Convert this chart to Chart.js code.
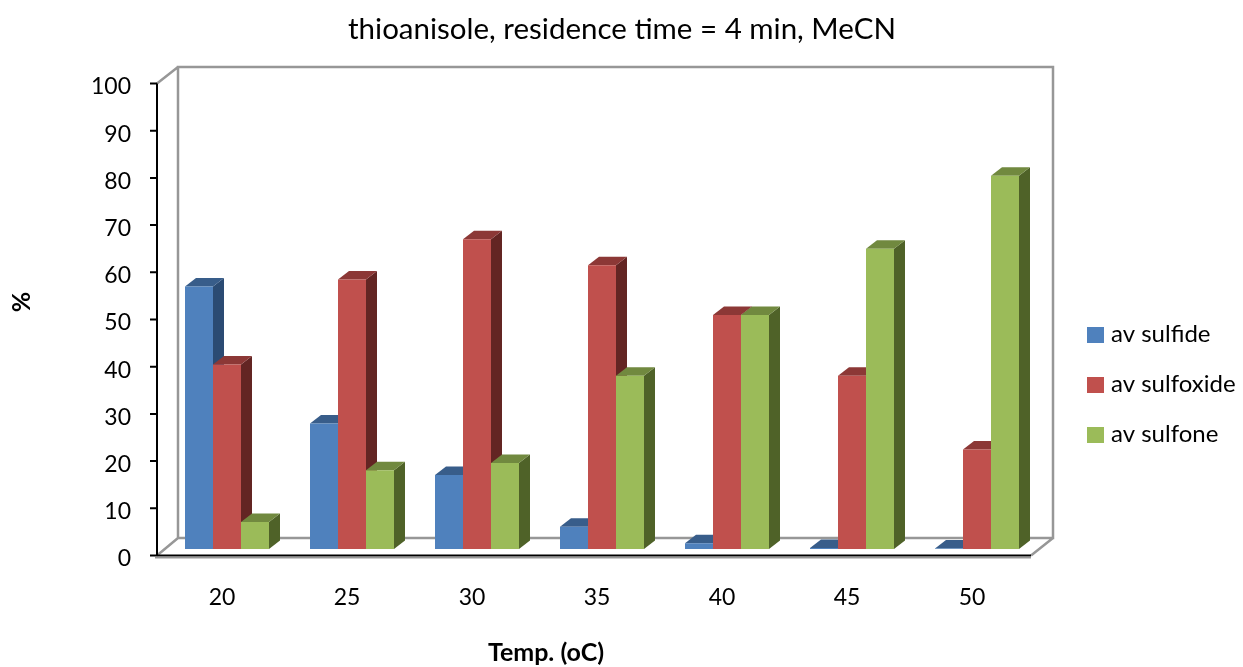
<!DOCTYPE html>
<html>
<head>
<meta charset="utf-8">
<script src="https://cdn.jsdelivr.net/npm/chart.js@4.4.1/dist/chart.umd.min.js"></script>
<style>
  html, body { margin: 0; padding: 0; background: #fff; }
  canvas { display: block; }
</style>
</head>
<body>
<canvas id="c" width="1243" height="667"></canvas>
<script>
// Temperatures (°C) on the category axis
const temperatures = ['20', '25', '30', '35', '40', '45', '50'];
// Average composition (%) per temperature
const sulfide   = [55.6, 26.6, 15.7, 4.7, 1.2, 0.2, 0.1];
const sulfoxide = [39.1, 57.1, 65.6, 60.1, 49.6, 36.7, 21.1];
const sulfone   = [5.7, 16.7, 18.2, 36.7, 49.6, 63.6, 79.1];
const seriesNames = ['av sulfide', 'av sulfoxide', 'av sulfone'];
const yTickValues = [0, 10, 20, 30, 40, 50, 60, 70, 80, 90, 100];

const FONT = "Lato, 'Open Sans', sans-serif";

// front / top / side shades for each series
const shades = [
  { front: '#4F81BD', top: '#385D8A', side: '#2B4B73' },
  { front: '#C0504D', top: '#8C3836', side: '#632523' },
  { front: '#9BBB59', top: '#71893F', side: '#4F6228' }
];

// bar depth (oblique projection)
const DEPTH = { dx: 11, dy: -8.5 };

function fillPoly(ctx, pts, color) {
  ctx.beginPath();
  ctx.moveTo(pts[0][0], pts[0][1]);
  for (let i = 1; i < pts.length; i++) ctx.lineTo(pts[i][0], pts[i][1]);
  ctx.closePath();
  ctx.fillStyle = color;
  ctx.fill();
}

const frame3d = {
  id: 'frame3d',
  beforeDatasetsDraw(chart) {
    const { ctx, chartArea: a, scales: { y } } = chart;
    const fy = v => y.getPixelForValue(v) + 6.5;      // front plane
    const fl = a.left - 7.5, fr = a.right - 8.5;
    const bl = a.left + 13.5, br = a.right + 13.5;    // back plane
    const bt = y.getPixelForValue(100) - 10;
    const bb = y.getPixelForValue(0) - 11;

    ctx.save();
    // back wall, side wall edge and floor edges
    ctx.strokeStyle = '#979797';
    ctx.lineWidth = 2.5;
    ctx.beginPath();
    ctx.moveTo(bl, bb); ctx.lineTo(bl, bt); ctx.lineTo(br, bt); ctx.lineTo(br, bb); ctx.lineTo(bl, bb);
    ctx.moveTo(fl, fy(100)); ctx.lineTo(bl, bt);
    ctx.moveTo(fl, fy(0)); ctx.lineTo(bl, bb);
    ctx.moveTo(fr, fy(0)); ctx.lineTo(br, bb);
    ctx.stroke();
    ctx.lineWidth = 1.5;
    ctx.beginPath();
    ctx.moveTo(fl - 2, fy(0) + 2.2); ctx.lineTo(fr, fy(0) + 2.2);
    ctx.stroke();

    // front value axis with tick marks, and front floor edge
    ctx.strokeStyle = '#000';
    ctx.lineWidth = 2;
    ctx.beginPath();
    ctx.moveTo(fl, fy(100)); ctx.lineTo(fl, fy(0));
    ctx.moveTo(fl - 2, fy(0)); ctx.lineTo(fr, fy(0));
    yTickValues.forEach(v => { ctx.moveTo(fl - 7, fy(v)); ctx.lineTo(fl, fy(v)); });
    ctx.stroke();

    // side and top faces of every bar (front faces are drawn by the bar controller)
    chart.data.datasets.forEach((ds, i) => {
      const meta = chart.getDatasetMeta(i);
      const s = shades[i];
      meta.data.forEach(bar => {
        const p = bar.getProps(['x', 'y', 'base', 'width'], true);
        const l = p.x - p.width / 2, r = p.x + p.width / 2;
        const t = p.y, b = p.base;
        fillPoly(ctx, [[r, t], [r + DEPTH.dx, t + DEPTH.dy], [r + DEPTH.dx, b + DEPTH.dy], [r, b]], s.side);
        fillPoly(ctx, [[l, t], [l + DEPTH.dx, t + DEPTH.dy], [r + DEPTH.dx, t + DEPTH.dy], [r, t]], s.top);
      });
    });
    ctx.restore();
  },
  afterDraw(chart) {
    const { ctx } = chart;
    ctx.save();
    ctx.fillStyle = '#000';
    ctx.textBaseline = 'middle';

    // chart title
    ctx.font = `29.5px ${FONT}`;
    ctx.textAlign = 'center';
    ctx.fillText('thioanisole, residence time = 4 min, MeCN', 622, 29);

    // axis titles
    ctx.font = `bold 25px ${FONT}`;
    ctx.fillText('Temp. (oC)', 546, 653);
    ctx.save();
    ctx.translate(22, 302);
    ctx.rotate(-Math.PI / 2);
    ctx.fillText('%', 0, 0);
    ctx.restore();

    // legend
    ctx.textAlign = 'left';
    ctx.font = `24px ${FONT}`;
    chart.data.datasets.forEach((ds, i) => {
      const cy = 334 + i * 50;
      ctx.fillStyle = ds.backgroundColor;
      ctx.fillRect(1087, cy - 7, 17, 16);
      ctx.fillStyle = '#000';
      ctx.fillText(ds.label, 1111, cy);
    });
    ctx.restore();
  }
};

const seriesData = [sulfide, sulfoxide, sulfone];

new Chart(document.getElementById('c'), {
  type: 'bar',
  data: {
    labels: temperatures,
    datasets: seriesData.map((d, i) => ({
      label: seriesNames[i],
      data: d,
      backgroundColor: shades[i].front,
      borderWidth: 0
    }))
  },
  options: {
    responsive: false,
    animation: false,
    devicePixelRatio: 1,
    layout: { padding: { left: 0, right: 203.5, top: 77, bottom: 0 } },
    datasets: { bar: { categoryPercentage: 0.672, barPercentage: 1 } },
    plugins: {
      legend: { display: false },
      title: { display: false },
      tooltip: { enabled: false }
    },
    scales: {
      x: {
        grid: { display: false, drawTicks: false },
        border: { display: false },
        ticks: { padding: 35, labelOffset: -5, maxRotation: 0, color: '#000', font: { family: FONT, size: 23 } },
        afterFit: s => { s.height = 118; }
      },
      y: {
        min: 0,
        max: 100,
        grid: { display: false, drawTicks: false },
        border: { display: false },
        ticks: { padding: 33.5, labelOffset: 10, color: '#000', font: { family: FONT, size: 23 } },
        afterBuildTicks: s => { s.ticks = yTickValues.map(v => ({ value: v })); },
        afterFit: s => { s.width = 164.5; }
      }
    }
  },
  plugins: [frame3d]
});
</script>
</body>
</html>
